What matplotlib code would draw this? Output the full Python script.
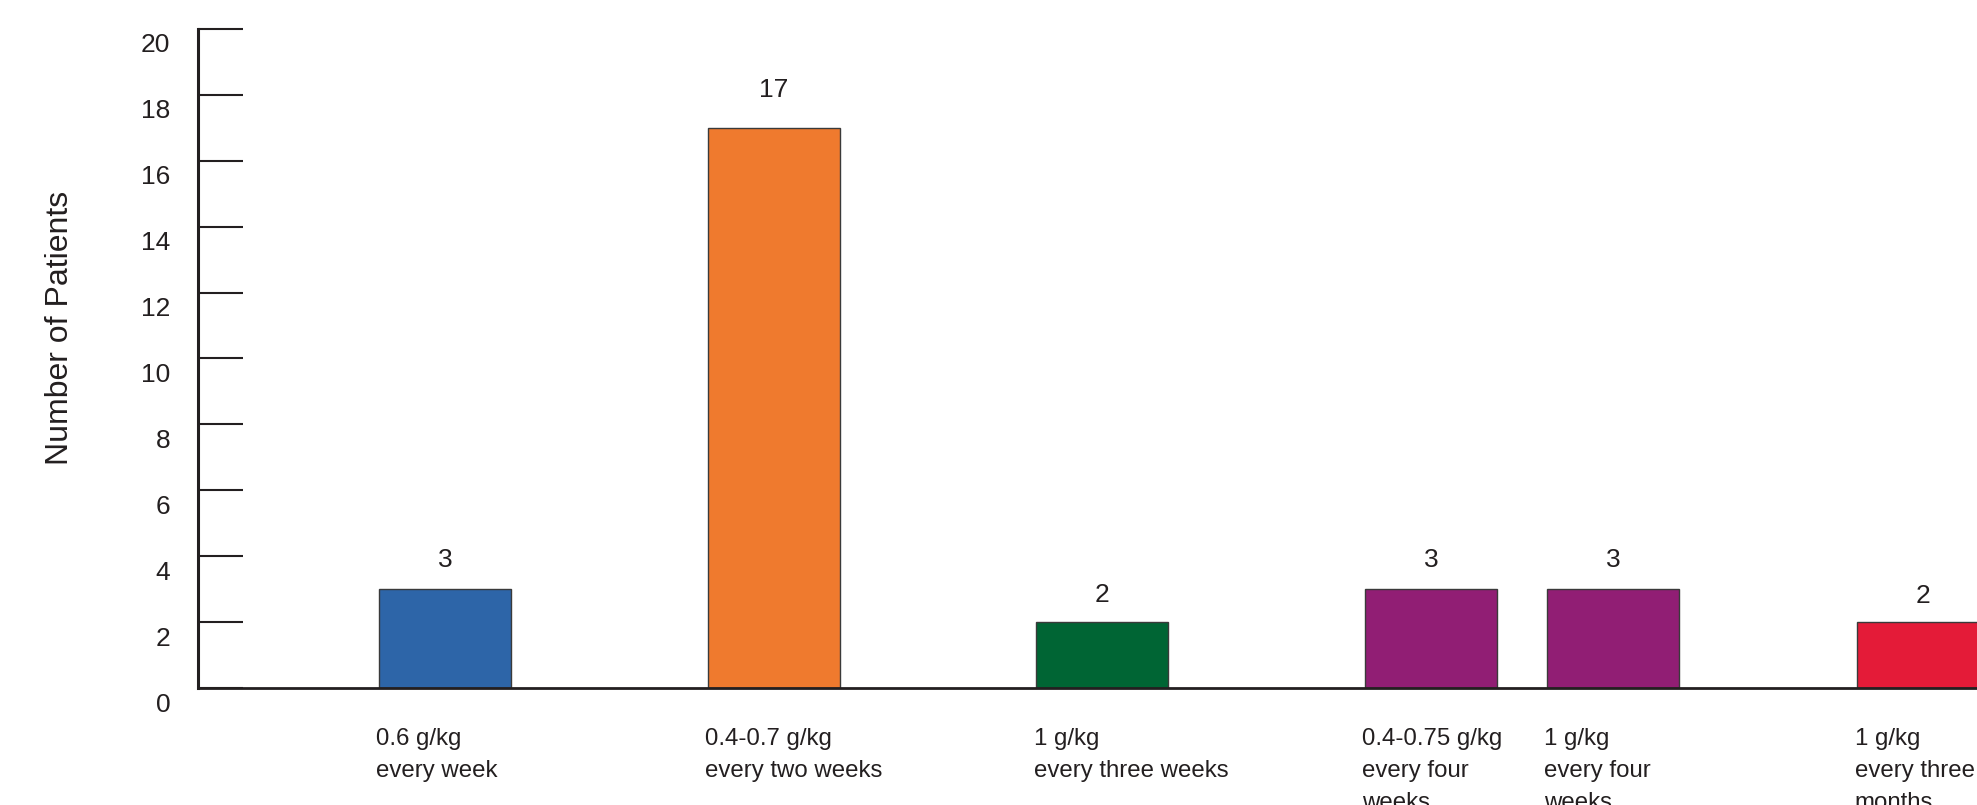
import matplotlib
matplotlib.use('Agg')
import matplotlib.pyplot as plt
from matplotlib.transforms import ScaledTranslation

plt.rcParams['font.family'] = ['Liberation Sans', 'DejaVu Sans']

# dosing regimens and patient counts
regimens = ['0.6 g/kg\nevery week',
            '0.4-0.7 g/kg\nevery two weeks',
            '1 g/kg\nevery three weeks',
            '0.4-0.75 g/kg\nevery four\nweeks',
            '1 g/kg\nevery four\nweeks',
            '1 g/kg\nevery three\nmonths']
patients = [3, 17, 2, 3, 3, 2]
bar_colors = ['#2d65a8', '#ef7a2e', '#006534', '#911e74', '#911e74', '#e41b38']

# where the bars sit along the axis (bar width = 1 unit)
bar_pos = [1.87, 4.36, 6.85, 9.34, 10.72, 13.07]
value_pad = [29, 38, 27, 29, 29, 26]   # px between bar top and count label
yticks = list(range(0, 21, 2))

ink = '#231f20'
W, H, DPI = 1977, 805, 100
fig = plt.figure(figsize=(W / DPI, H / DPI), dpi=DPI)
ax = fig.add_axes([198 / W, (H - 688) / H, 1 - 198 / W, (688 - 29) / H])

ax.bar(bar_pos, patients, width=1.0, color=bar_colors,
       edgecolor='#3a3a3a', linewidth=1.0, zorder=2)

ax.set_xlim(0, (W - 198) / 132)
ax.set_ylim(0, 20)

for s in ['top', 'right']:
    ax.spines[s].set_visible(False)
ax.spines['left'].set_linewidth(2.2)
ax.spines['bottom'].set_linewidth(2.0)
ax.spines['left'].set_color(ink)
ax.spines['bottom'].set_color(ink)
ax.spines['bottom'].set_zorder(3)

ax.set_xticks([])
ax.set_yticks(yticks)
ax.tick_params(axis='y', direction='in', length=32.4, width=1.5,
               color=ink, labelcolor=ink, labelsize=19, pad=20)
# numbers sit a little below their tick marks
shift = ScaledTranslation(0, -14 / DPI, fig.dpi_scale_trans)
for lab in ax.get_yticklabels():
    lab.set_transform(lab.get_transform() + shift)

# count above each bar
for x, v, p in zip(bar_pos, patients, value_pad):
    ax.annotate(str(v), xy=(x, v), xytext=(0, p * 72 / DPI),
                textcoords='offset points', ha='center', va='center',
                fontsize=19, color=ink)

# regimen names under the bars, left aligned with the bar edge
for x, name in zip(bar_pos, regimens):
    ax.annotate(name, xy=(x - 0.52, 0), xycoords=('data', 'axes fraction'),
                xytext=(0, -40 * 72 / DPI), textcoords='offset points',
                ha='left', va='top', fontsize=17.3, color=ink,
                linespacing=1.6, annotation_clip=False)

fig.text(60 / W, 1 - 328 / H, 'Number of Patients', rotation=90,
         ha='center', va='center', fontsize=23, color=ink)

fig.savefig('out.png', dpi=DPI)
